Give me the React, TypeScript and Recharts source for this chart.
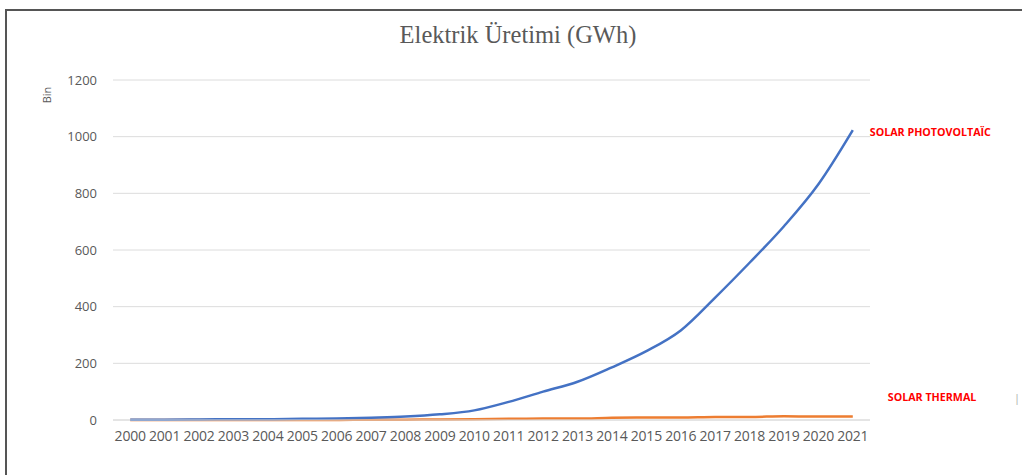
import React from "react";
import { LineChart, Line, XAxis, YAxis, CartesianGrid, LabelList } from "recharts";

const years = ["2000","2001","2002","2003","2004","2005","2006","2007","2008","2009","2010","2011","2012","2013","2014","2015","2016","2017","2018","2019","2020","2021"];
const photovoltaic = [1, 1, 2, 3, 3, 4, 5, 8, 12, 20, 34, 64, 100, 135, 186, 243, 316, 432, 555, 684, 832, 1023];
const thermal = [0, 0, 0, 0, 0, 0, 0, 1, 1, 2, 3, 4, 5, 5, 8, 9, 9, 11, 11, 13, 12, 12];
const yTicks = [0, 200, 400, 600, 800, 1000, 1200];
const pvName = "SOLAR PHOTOVOLTAÏC";
const thName = "SOLAR THERMAL";

const data = years.map((y, i) => ({ year: y, pv: photovoltaic[i], th: thermal[i] }));
const last = years.length - 1;

const makeLabel = (text: string, dx: number, dy: number) => (props: any) => {
  const { x, y, index } = props;
  if (index !== last) return null;
  return (
    <text x={x + dx} y={y + dy} fill="#FF0000" fontSize={10.7} fontWeight="bold" fontFamily="'Open Sans', sans-serif" dominantBaseline="middle">
      {text}
    </text>
  );
};

export default function App() {
  return (
    <div style={{ position: "fixed", left: 0, top: 0, width: 1022, height: 475, background: "#fff", overflow: "hidden" }}>
      <div style={{ position: "absolute", left: 5, top: 9, width: 1030, height: 480, borderTop: "2px solid #555", borderLeft: "2px solid #555" }} />
      <div style={{ position: "absolute", left: 0, top: 21, width: 1036, textAlign: "center", fontFamily: "'Liberation Serif', serif", fontSize: 24.5, color: "#595959" }}>
        Elektrik Üretimi (GWh)
      </div>
      <div style={{ position: "absolute", left: 1014, top: 390, fontFamily: "'Open Sans', sans-serif", fontSize: 11, color: "#aaa" }}>|</div>
      <div style={{ position: "absolute", left: 32, top: 88, width: 30, height: 14, lineHeight: "14px", textAlign: "center", transform: "rotate(-90deg)", fontFamily: "'Open Sans', sans-serif", fontSize: 11, color: "#595959" }}>Bin</div>
      <LineChart width={1022} height={475} data={data} margin={{ top: 80, right: 152, bottom: 25, left: 53 }}>
        <CartesianGrid vertical={false} stroke="#dcdcdc" strokeWidth={1} />
        <XAxis
          dataKey="year"
          scale="band"
          interval={0}
          tickLine={false}
          axisLine={{ stroke: "#dcdcdc" }}
          tickSize={0}
          tickMargin={11}
          height={30}
          tick={{ fill: "#595959", fontSize: 14, fontFamily: "'Open Sans', sans-serif", letterSpacing: -0.2 }}
        />
        <YAxis
          domain={[0, 1200]}
          ticks={yTicks}
          width={60}
          tickLine={false}
          axisLine={false}
          tickSize={0}
          tickMargin={16}
          tick={{ fill: "#595959", fontSize: 13, fontFamily: "'Open Sans', sans-serif" }}
        />
        <Line type="monotone" dataKey="th" stroke="#ED7D31" strokeWidth={2.5} dot={false} isAnimationActive={false}>
          <LabelList dataKey="th" content={makeLabel(thName, 35, -18)} />
        </Line>
        <Line type="monotone" dataKey="pv" stroke="#4472C4" strokeWidth={2.5} dot={false} isAnimationActive={false}>
          <LabelList dataKey="pv" content={makeLabel(pvName, 17, 3)} />
        </Line>
      </LineChart>
    </div>
  );
}
